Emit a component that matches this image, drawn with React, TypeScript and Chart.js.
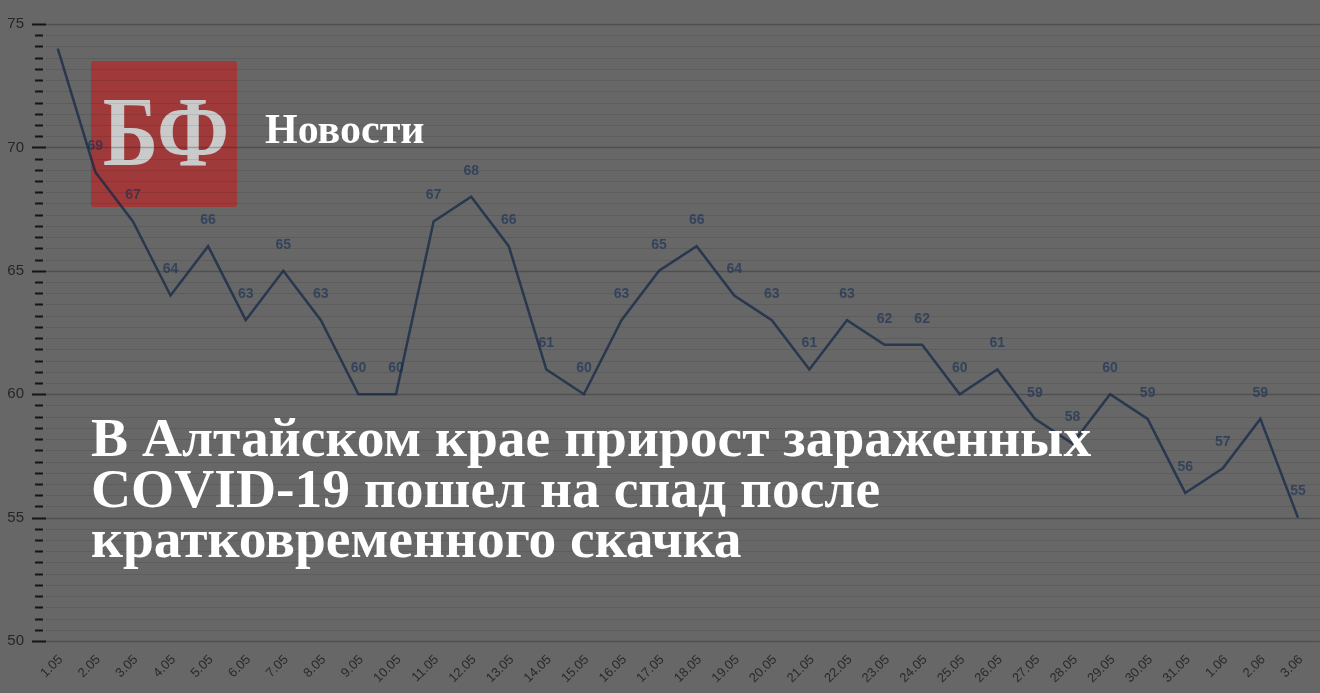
import React, { useEffect, useRef } from "react";
import { Chart, registerables } from "chart.js";

Chart.register(...registerables);

const dates = [
  "1.05", "2.05", "3.05", "4.05", "5.05", "6.05", "7.05", "8.05", "9.05", "10.05",
  "11.05", "12.05", "13.05", "14.05", "15.05", "16.05", "17.05", "18.05", "19.05", "20.05",
  "21.05", "22.05", "23.05", "24.05", "25.05", "26.05", "27.05", "28.05", "29.05", "30.05",
  "31.05", "1.06", "2.06", "3.06",
];

const cases = [
  74, 69, 67, 64, 66, 63, 65, 63, 60, 60,
  67, 68, 66, 61, 60, 63, 65, 66, 64, 63,
  61, 63, 62, 62, 60, 61, 59, 58, 60, 59,
  56, 57, 59, 55,
];

const yMin = 50;
const yMax = 75;
const majorStep = 5;
const minorPerMajor = 11;

const titleLines = [
  "В Алтайском крае прирост зараженных",
  "COVID-19 пошел на спад после",
  "кратковременного скачка",
];

const gridPlugin = {
  id: "customGrid",
  beforeDatasetsDraw(chart: any) {
    const ctx = chart.ctx;
    const y = chart.scales.y;
    const { left, right } = chart.chartArea;
    ctx.save();
    y.ticks.forEach((t: any, i: number) => {
      const py = Math.round(y.getPixelForValue(t.value)) + 0.5;
      const major = i % minorPerMajor === 0;
      ctx.strokeStyle = major ? "rgba(0,0,0,0.22)" : "rgba(0,0,0,0.09)";
      ctx.lineWidth = major ? 1.5 : 1;
      ctx.beginPath();
      ctx.moveTo(left + 7, py);
      ctx.lineTo(right + 3, py);
      ctx.stroke();
      ctx.strokeStyle = "#151515";
      ctx.lineWidth = 2;
      ctx.beginPath();
      if (major) {
        ctx.moveTo(left - 7, py);
        ctx.lineTo(left + 7, py);
      } else {
        ctx.moveTo(left - 4, py);
        ctx.lineTo(left + 4, py);
      }
      ctx.stroke();
    });
    ctx.restore();
  },
};

const labelPlugin = {
  id: "pointLabels",
  afterDatasetsDraw(chart: any) {
    const ctx = chart.ctx;
    const meta = chart.getDatasetMeta(0);
    ctx.save();
    ctx.font = "bold 14px 'Liberation Sans', Arial, sans-serif";
    ctx.fillStyle = "rgba(15,43,83,0.6)";
    ctx.textAlign = "center";
    ctx.textBaseline = "middle";
    meta.data.forEach((pt: any, i: number) => {
      if (i === 0) return;
      ctx.fillText(String(cases[i]), pt.x, pt.y - 26);
    });
    ctx.restore();
  },
};

export default function App() {
  const ref = useRef<HTMLCanvasElement | null>(null);

  useEffect(() => {
    if (!ref.current) return;
    const chart = new Chart(ref.current, {
      type: "line",
      data: {
        labels: dates,
        datasets: [
          {
            data: cases,
            borderColor: "rgba(20,40,70,0.75)",
            borderWidth: 2.5,
            pointRadius: 0,
            tension: 0,
            fill: false,
          },
        ],
      },
      options: {
        animation: false,
        responsive: false,
        maintainAspectRatio: false,
        layout: { padding: { top: 23, right: 1, left: 0, bottom: 0 } },
        plugins: {
          legend: { display: false },
          tooltip: { enabled: false },
        },
        scales: {
          x: {
            offset: true,
            grid: { display: false, drawTicks: false },
            border: { display: false },
            afterFit: (s: any) => {
              s.height = 52;
            },
            ticks: {
              autoSkip: false,
              minRotation: 45,
              maxRotation: 45,
              padding: 11,
              labelOffset: 3,
              color: "#2a2a2a",
              font: { family: "'Liberation Sans', Arial, sans-serif", size: 13 },
            },
          },
          y: {
            min: yMin,
            max: yMax,
            grid: { display: false, drawTicks: false },
            border: { display: false },
            afterFit: (s: any) => {
              s.width = 39;
            },
            afterBuildTicks: (s: any) => {
              const n = ((yMax - yMin) / majorStep) * minorPerMajor;
              const arr = [];
              for (let i = 0; i <= n; i++) {
                arr.push({ value: yMin + (i * majorStep) / minorPerMajor });
              }
              s.ticks = arr;
            },
            ticks: {
              autoSkip: false,
              padding: 15,
              color: "#262626",
              font: { family: "'Liberation Sans', Arial, sans-serif", size: 15 },
              callback: (_v: any, i: number) =>
                i % minorPerMajor === 0 ? String(yMin + (i / minorPerMajor) * majorStep) : "",
            },
          },
        },
      },
      plugins: [gridPlugin, labelPlugin],
    });
    return () => chart.destroy();
  }, []);

  return (
    <div
      style={{
        position: "fixed",
        left: 0,
        top: 0,
        width: 1320,
        height: 693,
        background: "#676767",
        overflow: "hidden",
      }}
    >
      <div
        style={{
          position: "absolute",
          left: 91,
          top: 61,
          width: 146,
          height: 146,
          background: "rgb(160,58,58)",
          borderRadius: 3,
          color: "#cacaca",
          fontFamily: "'Liberation Serif', serif",
          fontWeight: "bold",
          fontSize: 100,
          lineHeight: "100px",
          textAlign: "center",
        }}
      >
        <div
          style={{
            position: "absolute",
            left: 0,
            right: 0,
            top: 21,
            transform: "scaleX(0.84)",
            whiteSpace: "nowrap",
          }}
        >
          БФ
        </div>
      </div>
      <canvas ref={ref} width={1320} height={693} style={{ position: "absolute", left: 0, top: 0 }} />
      <div
        style={{
          position: "absolute",
          left: 265,
          top: 108,
          color: "#ffffff",
          fontFamily: "'Liberation Serif', serif",
          fontWeight: "bold",
          fontSize: 42,
          lineHeight: "42px",
          whiteSpace: "nowrap",
        }}
      >
        Новости
      </div>
      <div
        style={{
          position: "absolute",
          left: 91,
          top: 413,
          color: "#ffffff",
          fontFamily: "'Liberation Serif', serif",
          fontWeight: "bold",
          fontSize: 55.5,
          lineHeight: "50.5px",
          whiteSpace: "nowrap",
        }}
      >
        {titleLines.map((l, i) => (
          <div key={i}>{l}</div>
        ))}
      </div>
    </div>
  );
}
